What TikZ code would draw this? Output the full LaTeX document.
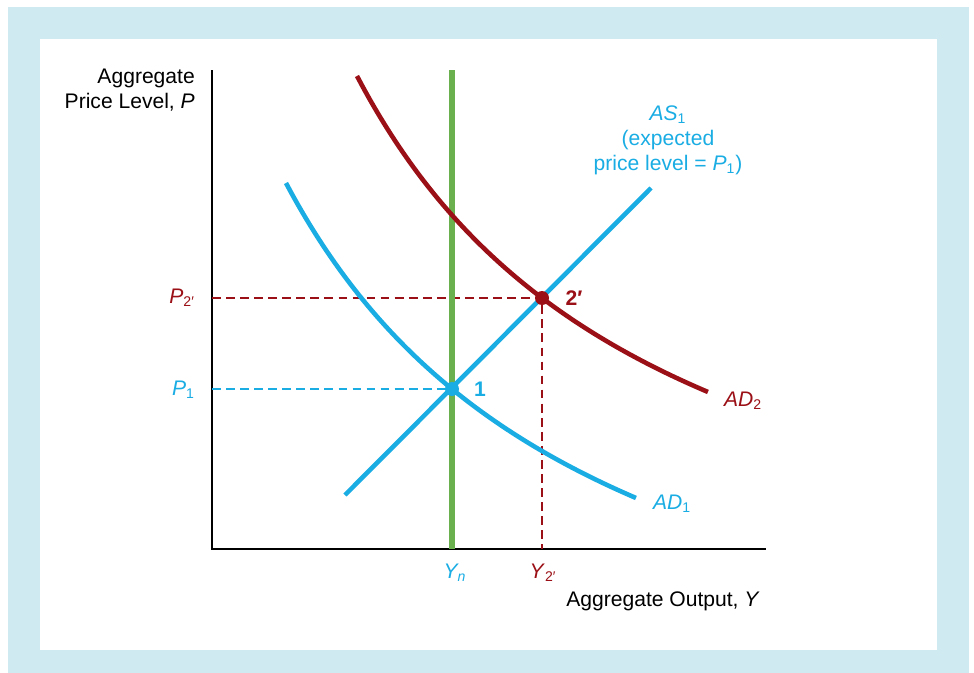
\documentclass[tikz,border=0pt]{standalone}
\usepackage{fontspec}
\setmainfont{Liberation Sans}
\usetikzlibrary{positioning}
\definecolor{asblue}{HTML}{1AADE4}
\definecolor{adred}{HTML}{9B1016}
\definecolor{yngreen}{HTML}{6BB04E}
\definecolor{framebg}{HTML}{CFEAF0}

\begin{document}
\begin{tikzpicture}[x=0.02cm,y=-0.02cm,every node/.style={font=\fontsize{12}{14.2}\selectfont},
  curve/.style={line width=2.6pt},guide/.style={line width=0.6pt,dash pattern=on 5pt off 3pt},
  dot/.style={circle,fill,inner sep=0pt,minimum size=0.28cm}]
\useasboundingbox (0,0) rectangle (974,673);
\fill[framebg] (8,7) rectangle (969,673);
\fill[white] (40,39) rectangle (937,650);
% axes
\coordinate (o) at (212,549); \coordinate (ptop) at (212,70); \coordinate (yend) at (766,549);
\coordinate (e1) at (452,389); \coordinate (e2) at (542,298);
\coordinate (yntop) at (452,70);
\draw[line width=0.8pt] (ptop) -- (o) -- (yend);
% guide lines
\draw[asblue,guide] (e1 -| o) -- (e1);
\draw[adred,guide] (e2 -| o) -- (e2) -- (e2 |- o);
% long-run supply
\draw[yngreen,line width=3pt] (yntop) -- (yntop |- o);
% AS and AD curves
\draw[asblue,curve] (345,495) -- (651,188);
\draw[asblue,curve,domain=2.86:6.36,samples=60,smooth] plot ({\x*100},{785.7-1926.8/(\x+0.337)});
\draw[adred,curve,domain=3.57:7.08,samples=60,smooth] plot ({\x*100},{674.4-1877.18/(\x-0.433)});
\node[dot,asblue] (p1) at (e1) {};
\node[dot,adred] (p2) at (e2) {};
% labels
\node[anchor=east,align=right] (plab) at (201,90) {Aggregate\\Price Level, \textit{P}};
\node[adred,anchor=east] (p2lab) at (201,298) {\textit{P}\textsubscript{2′}};
\node[asblue,anchor=east] (p1lab) at (201,390) {\textit{P}\textsubscript{1}};
\node[asblue] (ynlab) at (455,573) {\textit{Y\textsubscript{n}}};
\node[adred] (y2lab) at (543,573) {\textit{Y}\textsubscript{2′}};
\node[anchor=east] (ylab) at (766,601) {Aggregate Output, \textit{Y}};
\node[asblue,align=center] (aslab) at (668,140) {\textit{AS}\textsubscript{1}\\(expected\\price level = \textit{P}\textsubscript{1})};
\node[asblue,font=\fontsize{12}{14.2}\selectfont\bfseries] (n1) at (480,389) {1};
\node[adred,font=\fontsize{12}{14.2}\selectfont\bfseries] (n2) at (574,298) {2′};
\node[adred] (ad2lab) at (743,401) {\textit{AD}\textsubscript{2}};
\node[asblue] (ad1lab) at (672,504) {\textit{AD}\textsubscript{1}};
\end{tikzpicture}
\end{document}
